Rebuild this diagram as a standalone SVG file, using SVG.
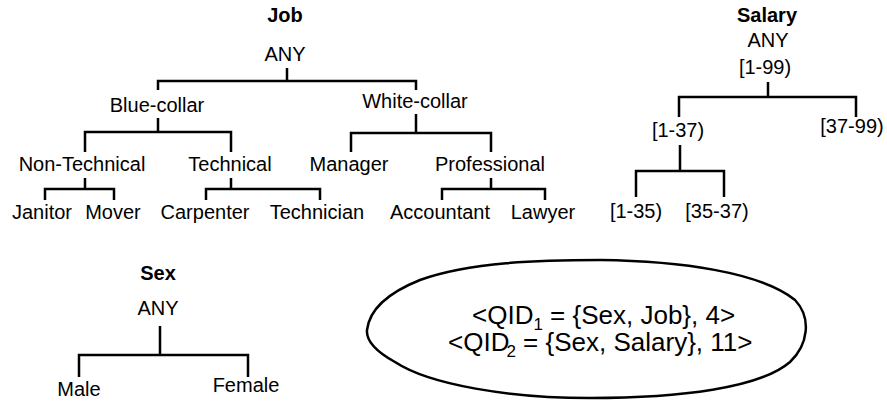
<svg xmlns="http://www.w3.org/2000/svg" width="887" height="401" viewBox="0 0 887 401">
<style>
.t{font-family:"Liberation Sans",Arial,sans-serif;font-size:20px;fill:#000;text-anchor:middle}
.b{font-weight:bold}
.q{font-family:"Liberation Sans",Arial,sans-serif;font-size:26px;fill:#000}
.s{font-size:17px}
.c{fill:none;stroke:#000;stroke-width:2.5}
</style>
<rect width="887" height="401" fill="#fff"/>
<g id="connectors" class="c">
<path d="M287 68V81M158 90V81H416V90"/>
<path d="M158 118V132M85 152V132H231V152"/>
<path d="M416 114V133M351 152V133H491V152"/>
<path d="M85 178V189M45 200V189H114V200"/>
<path d="M231 178V189M206 200V189H320V200"/>
<path d="M491 178V189M442 200V189H545V200"/>
<path d="M768 82V97M679 117V97H856V117"/>
<path d="M680 145V171M636 197V171H724V197"/>
<path d="M160 326V355M79 377V355H248V377"/>
</g>
<g id="job-title"><text class="t b" x="285" y="22">Job</text></g>
<g id="job-any"><text class="t" x="285" y="61">ANY</text></g>
<g id="blue-collar"><text class="t" x="157" y="112">Blue-collar</text></g>
<g id="white-collar"><text class="t" x="415" y="108">White-collar</text></g>
<g id="non-technical"><text class="t" x="82" y="171">Non-Technical</text></g>
<g id="technical"><text class="t" x="230" y="171">Technical</text></g>
<g id="manager"><text class="t" x="349" y="171">Manager</text></g>
<g id="professional"><text class="t" x="490" y="171">Professional</text></g>
<g id="janitor"><text class="t" x="42" y="219">Janitor</text></g>
<g id="mover"><text class="t" x="113" y="219">Mover</text></g>
<g id="carpenter"><text class="t" x="205" y="219">Carpenter</text></g>
<g id="technician"><text class="t" x="317" y="219">Technician</text></g>
<g id="accountant"><text class="t" x="440" y="219">Accountant</text></g>
<g id="lawyer"><text class="t" x="543" y="219">Lawyer</text></g>
<g id="salary-title"><text class="t b" x="767" y="22">Salary</text></g>
<g id="salary-any"><text class="t" x="768" y="47">ANY</text></g>
<g id="s1-99"><text class="t" x="765" y="74">[1-99)</text></g>
<g id="s1-37"><text class="t" x="678" y="137">[1-37)</text></g>
<g id="s37-99"><text class="t" x="852" y="133">[37-99)</text></g>
<g id="s1-35"><text class="t" x="636" y="218">[1-35)</text></g>
<g id="s35-37"><text class="t" x="717" y="218">[35-37)</text></g>
<g id="sex-title"><text class="t b" x="158" y="280">Sex</text></g>
<g id="sex-any"><text class="t" x="158" y="315">ANY</text></g>
<g id="male"><text class="t" x="79" y="396">Male</text></g>
<g id="female"><text class="t" x="246" y="392">Female</text></g>
<g id="qid-ellipse">
<path class="c" d="M367 330C370 305 395 290 420 280C470 262 540 260 600 260C680 261 760 272 795 300C812 318 808 345 790 362C760 388 680 398 590 398C510 398 430 385 395 362C377 352 366 341 367 330Z"/>
<text class="q" x="472" y="324">&lt;QID<tspan class="s" dy="6">1</tspan><tspan dy="-6"> = {Sex, Job}, 4&gt;</tspan></text>
<text class="q" x="448" y="351">&lt;QID<tspan class="s" dy="6" dx="-3">2</tspan><tspan dy="-6"> = {Sex, Salary}, 11&gt;</tspan></text>
</g>
</svg>
